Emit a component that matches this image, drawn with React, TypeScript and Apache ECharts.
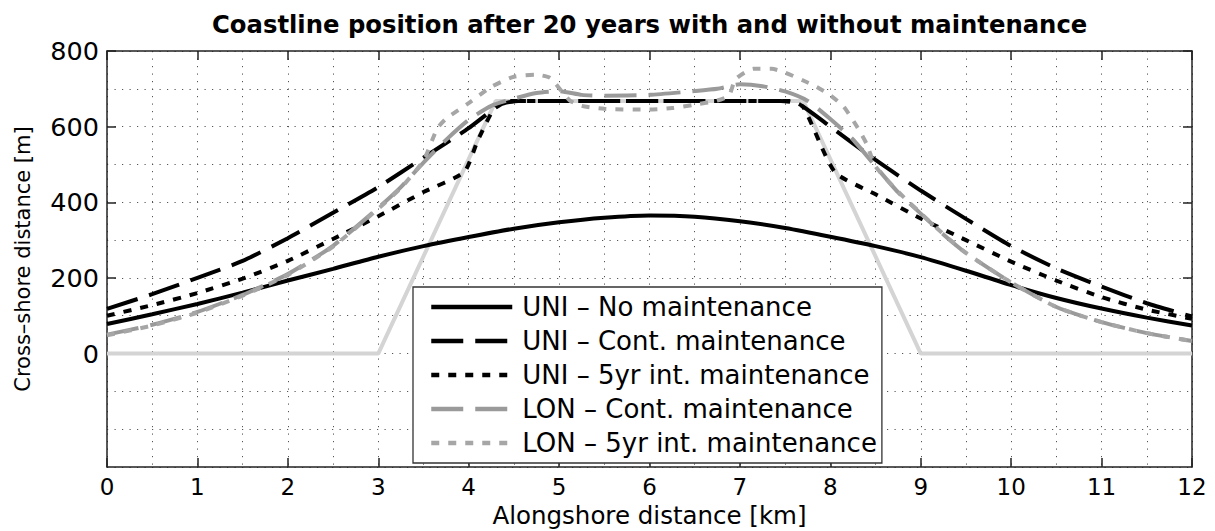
import React, { useEffect, useRef } from 'react';
import * as echarts from 'echarts';

const TITLE = 'Coastline position after 20 years with and without maintenance';
const X_NAME = 'Alongshore distance [km]';
const Y_NAME = 'Cross\u2013shore distance [m]';
const Y_LABELS = [0, 200, 400, 600, 800];
const X_TICKS = [0, 1, 2, 3, 4, 5, 6, 7, 8, 9, 10, 11, 12];

const NAMES = [
  'UNI \u2013 No maintenance',
  'UNI \u2013 Cont. maintenance',
  'UNI \u2013 5yr int. maintenance',
  'LON \u2013 Cont. maintenance',
  'LON \u2013 5yr int. maintenance',
];

// initial nourishment outline (light gray)
const nourishment = [[0, 0], [3, 0], [4.3, 668], [7.7, 668], [9, 0], [12, 0]];

const uniNo = [[0, 78], [0.5, 104], [1, 131], [1.5, 161], [2, 193], [2.5, 224], [3, 256], [3.5, 284], [4, 308], [4.5, 330], [5, 347], [5.5, 359], [6, 365], [6.5, 362], [7, 350], [7.5, 332], [8, 309], [8.5, 284], [9, 255], [9.5, 219], [10, 181], [10.5, 147], [11, 119], [11.5, 95], [12, 74]];

const uniCont = [[0, 118], [0.5, 157], [1, 200], [1.5, 245], [2, 305], [2.5, 372], [3, 440], [3.5, 518], [4, 596], [4.35, 658], [4.55, 668], [7.45, 668], [7.65, 660], [8, 600], [8.5, 512], [9, 431], [9.5, 356], [10, 284], [10.5, 225], [11, 177], [11.5, 133], [12, 98]];

const uni5yr = [[0, 100], [0.5, 128], [1, 160], [1.5, 198], [2, 245], [2.5, 303], [3, 363], [3.5, 427], [3.95, 480], [4.1, 563], [4.3, 655], [4.45, 668], [7.55, 668], [7.7, 652], [8.05, 480], [8.5, 421], [9, 357], [9.5, 300], [10, 243], [10.5, 193], [11, 149], [11.5, 116], [12, 92]];

const lonCont = [[0, 50], [0.5, 76], [1, 110], [1.5, 155], [2, 210], [2.5, 285], [3, 385], [3.25, 440], [3.5, 505], [3.75, 565], [4, 618], [4.25, 655], [4.5, 674], [4.75, 689], [5, 694], [5.25, 684], [5.5, 682], [6, 684], [6.5, 694], [6.75, 700], [7, 712], [7.25, 707], [7.5, 693], [7.75, 668], [8, 620], [8.25, 566], [8.5, 495], [8.75, 426], [9, 370], [9.25, 315], [9.5, 266], [10, 188], [10.5, 123], [11, 83], [11.5, 54], [12, 33]];

const lon5yr = [[0, 48], [0.5, 74], [1, 108], [1.5, 153], [2, 208], [2.5, 283], [3, 383], [3.25, 438], [3.5, 510], [3.65, 594], [3.75, 621], [4, 662], [4.25, 705], [4.5, 732], [4.75, 737], [4.9, 729], [5.02, 696], [5.12, 669], [5.25, 655], [5.5, 647], [6, 645], [6.25, 649], [6.5, 658], [6.75, 669], [6.88, 682], [6.95, 725], [7.15, 753], [7.35, 753], [7.5, 743], [7.7, 722], [7.85, 705], [8, 683], [8.15, 652], [8.3, 598], [8.4, 555], [8.5, 495], [8.75, 428], [9, 371], [9.25, 316], [9.5, 266], [10, 188], [10.5, 123], [11, 83], [11.5, 54], [12, 33]];

const FONT = 'DejaVu Sans';
const AXIS_COLOR = '#222';
const GRID_STYLE = { color: '#555', width: 1, type: [1.2, 6.3] as number[] };

function buildOption() {
  const axisLine = { show: true, onZero: false, lineStyle: { color: AXIS_COLOR, width: 1.5 } };
  const tick = { show: true, inside: true, length: 9, lineStyle: { color: AXIS_COLOR, width: 1.5 } };
  const line = (name: string, data: number[][], color: string, type: any, width: number, z: number) => ({
    name,
    type: 'line',
    data,
    xAxisIndex: 0,
    yAxisIndex: 0,
    symbol: 'none',
    showSymbol: false,
    smooth: 0.2,
    z,
    lineStyle: { color, width, type, cap: 'butt' },
    itemStyle: { color, opacity: 0 },
  });
  return {
    animation: false,
    backgroundColor: '#fff',
    title: {
      text: TITLE,
      left: 212,
      top: 12,
      padding: 0,
      textStyle: { fontFamily: FONT, fontWeight: 'bold', fontSize: 24.3, color: '#000' },
    },
    grid: { left: 107, right: 23, top: 51, bottom: 64, containLabel: false, outerBoundsMode: 'none' },
    legend: {
      data: NAMES,
      orient: 'vertical',
      left: 413,
      top: 287,
      padding: [7, 5, 7, 16],
      itemGap: 8,
      itemWidth: 81,
      itemHeight: 14,
      backgroundColor: '#fff',
      borderColor: '#333',
      borderWidth: 1.3,
      borderRadius: 0,
      itemStyle: { opacity: 0, borderWidth: 0 },
      lineStyle: { width: 4.5 },
      textStyle: { fontFamily: FONT, fontSize: 26, lineHeight: 25, color: '#000', padding: [0, 0, 0, 5] },
    },
    xAxis: [
      {
        type: 'value',
        min: 0,
        max: 12,
        interval: 1,
        position: 'bottom',
        axisLine,
        axisTick: tick,
        axisLabel: {
          fontFamily: FONT,
          fontSize: 23,
          lineHeight: 23,
          color: '#000',
          margin: 8,
          customValues: X_TICKS,
        },
        splitLine: { show: true, lineStyle: GRID_STYLE },
        minorTick: { show: false, splitNumber: 2 },
        minorSplitLine: { show: true, lineStyle: GRID_STYLE },
        name: X_NAME,
        nameLocation: 'middle',
        nameGap: 36,
        nameMoveOverlap: false,
        nameTextStyle: { fontFamily: FONT, fontSize: 24.5, lineHeight: 24, color: '#000' },
      },
      {
        type: 'value',
        min: 0,
        max: 12,
        interval: 1,
        position: 'top',
        axisLine,
        axisTick: tick,
        axisLabel: { show: false },
        splitLine: { show: false },
      },
    ],
    yAxis: [
      {
        type: 'value',
        min: -300,
        max: 800,
        interval: 100,
        position: 'left',
        axisLine,
        axisTick: { show: false },
        axisLabel: { show: false },
        splitLine: { show: true, lineStyle: GRID_STYLE },
        name: Y_NAME,
        nameLocation: 'middle',
        nameGap: 74,
        nameMoveOverlap: false,
        nameTextStyle: { fontFamily: FONT, fontSize: 21, color: '#000' },
      },
      {
        type: 'value',
        min: -300,
        max: 800,
        position: 'left',
        axisLine: { show: false },
        axisTick: { ...tick, customValues: Y_LABELS },
        axisLabel: {
          fontFamily: FONT,
          fontSize: 25.5,
          color: '#000',
          margin: 8,
          customValues: Y_LABELS,
        },
        splitLine: { show: false },
      },
      {
        type: 'value',
        min: -300,
        max: 800,
        position: 'right',
        axisLine,
        axisTick: { ...tick, customValues: Y_LABELS },
        axisLabel: { show: false },
        splitLine: { show: false },
      },
    ],
    series: [
      { ...line('nourishment', nourishment, '#d4d4d4', 'solid', 4, 1), smooth: false },
      line(NAMES[0], uniNo, '#000', 'solid', 4, 2),
      line(NAMES[1], uniCont, '#000', [32, 12], 4, 3),
      line(NAMES[2], uni5yr, '#000', [8, 9], 4, 4),
      line(NAMES[3], lonCont, '#9a9a9a', [32, 12], 4, 5),
      line(NAMES[4], lon5yr, '#a6a6a6', [8, 9], 4, 6),
    ],
  };
}

export default function App() {
  const ref = useRef<HTMLDivElement>(null);
  useEffect(() => {
    document.body.style.margin = '0';
    const chart = echarts.init(ref.current as HTMLDivElement, null, { renderer: 'svg' });
    chart.setOption(buildOption() as any);
    return () => chart.dispose();
  }, []);
  return <div ref={ref} style={{ width: 1215, height: 531 }} />;
}
